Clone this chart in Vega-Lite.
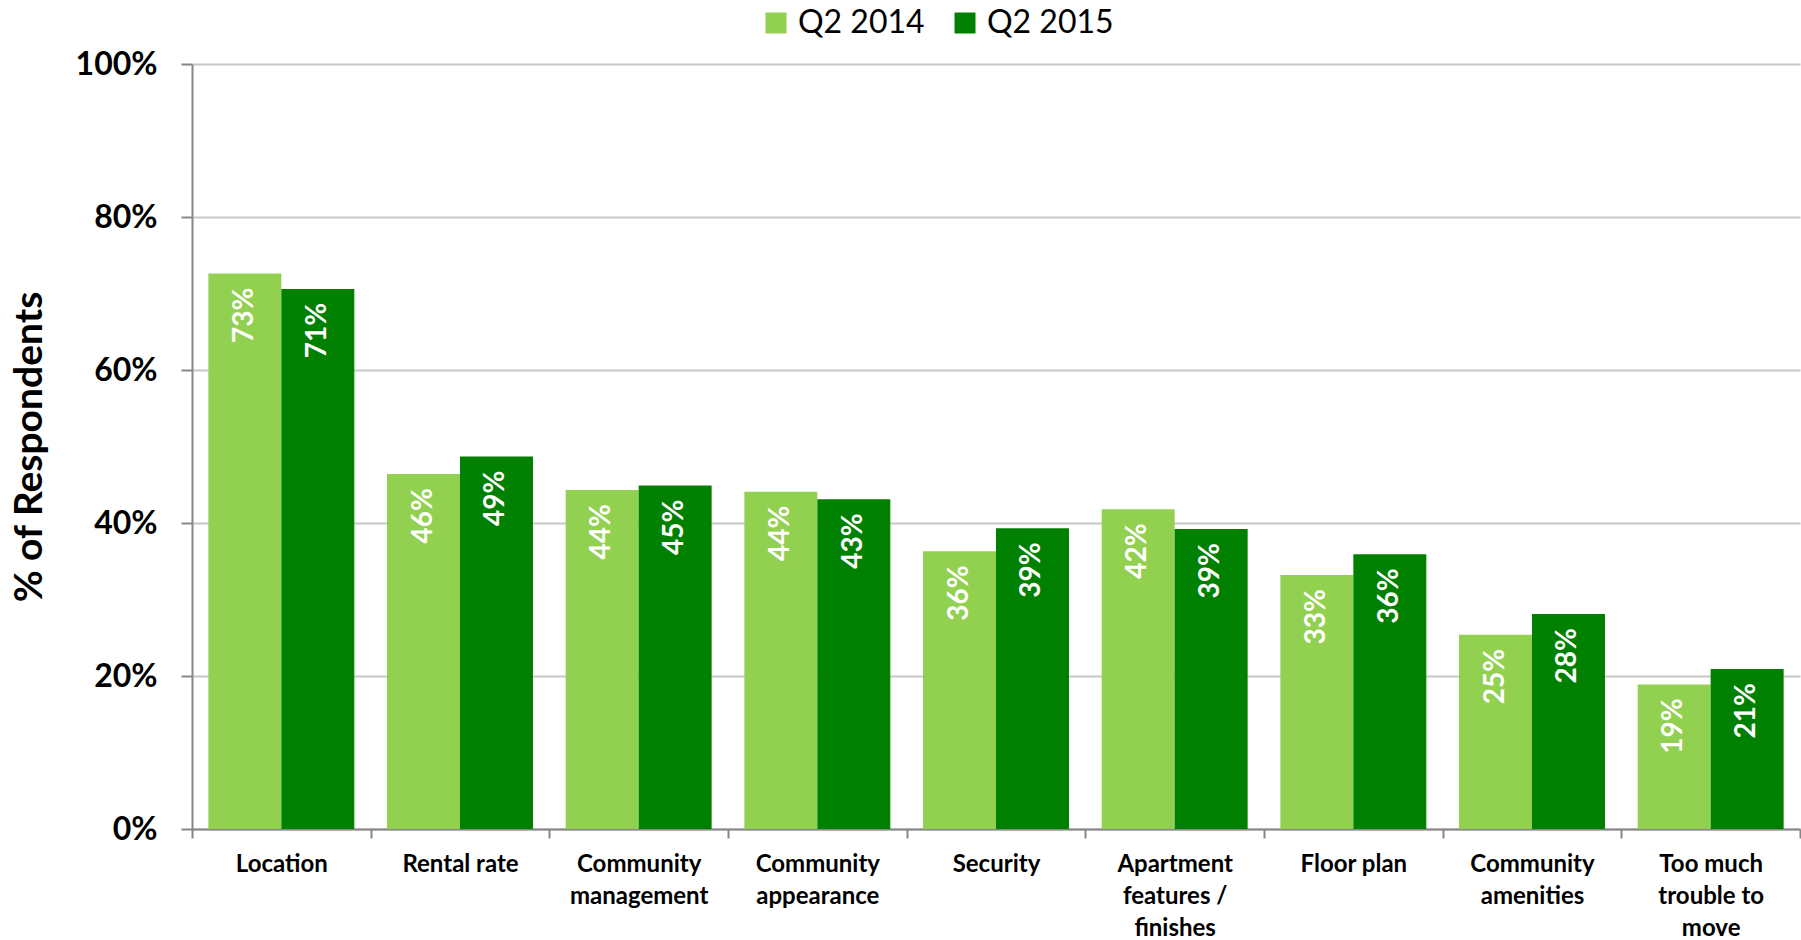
{
  "$schema": "https://vega.github.io/schema/vega-lite/v6.json",
  "width": 1608,
  "height": 765,
  "autosize": {"type": "none"},
  "padding": {"left": 192, "top": 64, "right": 1, "bottom": 111},
  "background": "white",
  "config": {
    "font": "Lato",
    "view": {"stroke": null},
    "axis": {"labelFont": "Lato", "titleFont": "Lato"}
  },
  "data": {
    "values": [
      {"reason": "Location", "series": "Q2 2014", "value": 0.726},
      {"reason": "Location", "series": "Q2 2015", "value": 0.706},
      {"reason": "Rental rate", "series": "Q2 2014", "value": 0.464},
      {"reason": "Rental rate", "series": "Q2 2015", "value": 0.487},
      {"reason": "Community management", "series": "Q2 2014", "value": 0.443},
      {"reason": "Community management", "series": "Q2 2015", "value": 0.449},
      {"reason": "Community appearance", "series": "Q2 2014", "value": 0.441},
      {"reason": "Community appearance", "series": "Q2 2015", "value": 0.431},
      {"reason": "Security", "series": "Q2 2014", "value": 0.363},
      {"reason": "Security", "series": "Q2 2015", "value": 0.393},
      {"reason": "Apartment features / finishes", "series": "Q2 2014", "value": 0.418},
      {"reason": "Apartment features / finishes", "series": "Q2 2015", "value": 0.392},
      {"reason": "Floor plan", "series": "Q2 2014", "value": 0.332},
      {"reason": "Floor plan", "series": "Q2 2015", "value": 0.359},
      {"reason": "Community amenities", "series": "Q2 2014", "value": 0.254},
      {"reason": "Community amenities", "series": "Q2 2015", "value": 0.281},
      {"reason": "Too much trouble to move", "series": "Q2 2014", "value": 0.189},
      {"reason": "Too much trouble to move", "series": "Q2 2015", "value": 0.209}
    ]
  },
  "encoding": {
    "x": {
      "field": "reason",
      "type": "nominal",
      "sort": null,
      "scale": {"paddingInner": 0, "paddingOuter": 0},
      "axis": {
        "title": null,
        "labelAngle": 0,
        "labelFont": "Lato",
        "labelFontSize": 24,
        "labelFontWeight": "bold",
        "labelColor": "black",
        "labelLineHeight": 32,
        "labelPadding": 14,
        "labelBaseline": "top",
        "labelLimit": 300,
        "domainColor": "#868686",
        "domainWidth": 2,
        "tickColor": "#868686",
        "tickWidth": 2,
        "tickSize": 9,
        "tickBand": "extent",
        "labelExpr": "datum.value == 'Community management' ? ['Community', 'management'] : datum.value == 'Community appearance' ? ['Community', 'appearance'] : datum.value == 'Apartment features / finishes' ? ['Apartment', 'features /', 'finishes'] : datum.value == 'Community amenities' ? ['Community', 'amenities'] : datum.value == 'Too much trouble to move' ? ['Too much', 'trouble to', 'move'] : datum.value"
      }
    },
    "xOffset": {"field": "series", "type": "nominal", "scale": {"paddingInner": 0, "paddingOuter": 0.224}},
    "y": {
      "field": "value",
      "type": "quantitative",
      "scale": {"domain": [0, 1], "nice": false},
      "axis": {
        "title": "% of Respondents",
        "titleFontSize": 39,
        "titleFontWeight": "bold",
        "titleColor": "black",
        "titlePadding": 26,
        "values": [0, 0.2, 0.4, 0.6, 0.8, 1],
        "format": ".0%",
        "labelFontSize": 32,
        "labelFontWeight": "bold",
        "labelColor": "black",
        "labelPadding": 24,
        "domainColor": "#868686",
        "domainWidth": 2,
        "tickColor": "#868686",
        "tickWidth": 2,
        "tickSize": 11,
        "grid": true,
        "gridColor": "#c8c8c8",
        "gridWidth": 2
      }
    }
  },
  "layer": [
    {
      "mark": {"type": "bar"},
      "encoding": {
        "color": {
          "field": "series",
          "type": "nominal",
          "scale": {"domain": ["Q2 2014", "Q2 2015"], "range": ["#92D050", "#008000"]},
          "legend": {
            "title": null,
            "orient": "none",
            "direction": "horizontal",
            "legendX": 568,
            "legendY": -57,
            "symbolType": "square",
            "symbolSize": 441,
            "symbolStrokeWidth": 0,
            "labelFontSize": 32,
            "labelColor": "black",
            "labelOffset": 6,
            "columnPadding": 24
          }
        }
      }
    },
    {
      "mark": {
        "type": "text",
        "angle": 270,
        "align": "right",
        "baseline": "middle",
        "dx": -14,
        "color": "white",
        "font": "Lato",
        "fontSize": 28,
        "fontWeight": "bold"
      },
      "encoding": {
        "text": {"field": "value", "type": "quantitative", "format": ".0%"}
      }
    }
  ]
}
